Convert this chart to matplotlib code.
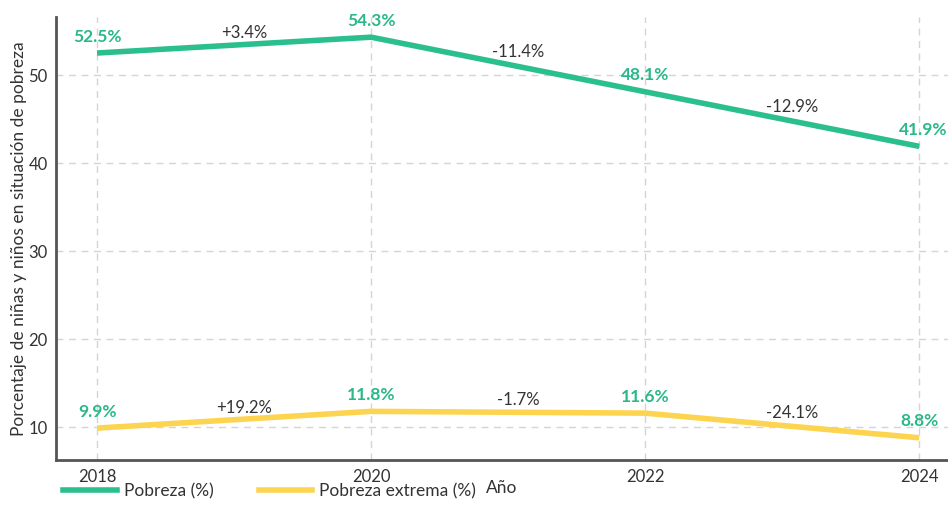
import matplotlib.pyplot as plt
from matplotlib.lines import Line2D

# Datos
anios = [2018, 2020, 2022, 2024]
pobreza = [52.5, 54.3, 48.1, 41.9]
pobreza_extrema = [9.9, 11.8, 11.6, 8.8]
cambio_pobreza = ["+3.4%", "-11.4%", "-12.9%"]
cambio_extrema = ["+19.2%", "-1.7%", "-24.1%"]

verde = "#2bbf8f"
amarillo = "#fdd44f"
texto_verde = "#2ab88a"

plt.rcParams['font.family'] = ['Lato', 'DejaVu Sans']

fig = plt.figure(figsize=(9.48, 5.29), dpi=100)
ax = fig.add_axes([0.059, 0.130, 0.941, 0.838])

ax.plot(anios, pobreza, color=verde, linewidth=4, solid_capstyle='butt', zorder=3)
ax.plot(anios, pobreza_extrema, color=amarillo, linewidth=4, solid_capstyle='butt', zorder=3)

# Etiquetas de valores
for serie in (pobreza, pobreza_extrema):
    for i, (x, y) in enumerate(zip(anios, serie)):
        dx = 3 if (i == len(anios) - 1 and serie is pobreza) else 0
        ax.annotate("{}%".format(y), (x, y), xytext=(dx, 6), textcoords="offset points",
                    ha="center", va="bottom", color=texto_verde, fontsize=12.5,
                    fontweight="bold")

# Etiquetas de cambio
for serie, cambios in ((pobreza, cambio_pobreza), (pobreza_extrema, cambio_extrema)):
    for i, c in enumerate(cambios):
        xm = (anios[i] + anios[i + 1]) / 2
        ym = (serie[i] + serie[i + 1]) / 2
        ax.annotate(c, (xm, ym), xytext=(7, 3), textcoords="offset points",
                    ha="center", va="bottom", color="#333333", fontsize=12)

ax.set_xlim(2017.70, 2024.21)
ax.set_ylim(6.25, 56.6)
ax.set_xticks(anios)
ax.set_yticks([10, 20, 30, 40, 50])
ax.tick_params(length=0, labelsize=12, colors="#333333", pad=6)
ax.grid(True, linestyle=(0, (5, 4)), color="#d4d4d4", linewidth=1)
ax.set_axisbelow(True)

for s in ("top", "right"):
    ax.spines[s].set_visible(False)
for s in ("left", "bottom"):
    ax.spines[s].set_color("#555555")
    ax.spines[s].set_linewidth(2)

ax.set_xlabel("Año", fontsize=12.5, color="#333333", labelpad=-3)
ax.set_ylabel("Porcentaje de niñas y niños en situación de pobreza", fontsize=12.5,
              color="#333333", labelpad=1)

handles = [Line2D([], [], color=verde, linewidth=4),
           Line2D([], [], color=amarillo, linewidth=4)]
fig.legend(handles, ["Pobreza (%)", "Pobreza extrema (%)"], loc="center left",
           bbox_to_anchor=(0.05, 0.071), ncol=2, frameon=False, fontsize=12.5,
           handlelength=3.1, handletextpad=0.4, columnspacing=2.6, labelcolor="#333333")

plt.savefig("out.png", dpi=100)
